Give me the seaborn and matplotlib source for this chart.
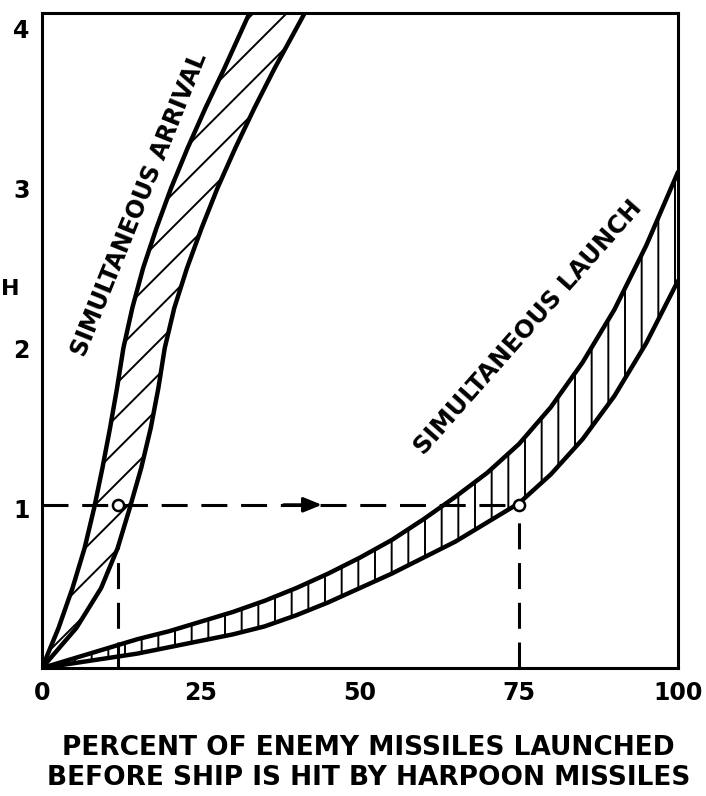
import numpy as np
import pandas as pd
import matplotlib
matplotlib.use("Agg")
import matplotlib.pyplot as plt
import seaborn as sns

# ---- data ----
# Simultaneous arrival band (x as function of y)
arrival_y = [0, 0.25, 0.5, 0.75, 1.0, 1.25, 1.5, 1.75, 2.0, 2.25, 2.5, 2.75, 3.0, 3.25, 3.5, 3.75, 4.1]
arrival_left_x = [0, 2.6, 4.8, 6.7, 8.2, 9.5, 10.7, 11.8, 12.8, 14.2, 15.9, 18.0, 20.3, 22.9, 25.7, 28.7, 32.7]
arrival_right_x = [0, 5.4, 9.3, 11.9, 13.8, 15.6, 17.1, 18.3, 19.3, 20.8, 22.8, 25.1, 27.6, 30.4, 33.4, 36.6, 41.4]

# Simultaneous launch band (y as function of x)
launch_x = [0, 5, 10, 15, 20, 25, 30, 35, 40, 45, 50, 55, 60, 65, 70, 75, 80, 85, 90, 95, 100]
launch_upper = [0, 0.06, 0.12, 0.18, 0.23, 0.29, 0.35, 0.42, 0.50, 0.59, 0.69, 0.80, 0.93, 1.07, 1.22, 1.40, 1.63, 1.91, 2.24, 2.64, 3.10]
launch_lower = [0, 0.03, 0.06, 0.09, 0.13, 0.17, 0.21, 0.26, 0.33, 0.41, 0.50, 0.59, 0.69, 0.79, 0.91, 1.03, 1.21, 1.43, 1.70, 2.03, 2.42]

# reading example (dashed guide lines)
guide_level = 1.02
guide_x_arrival = 12
guide_x_launch = 75
guide_arrival_visible_top = 0.78
arrow_tip_x = 44

x_ticks = [0, 25, 50, 75, 100]
y_ticks = [1, 2, 3, 4]
label_arrival = "SIMULTANEOUS ARRIVAL"
label_launch = "SIMULTANEOUS LAUNCH"
y_label = "H"
x_label = "PERCENT OF ENEMY MISSILES LAUNCHED\nBEFORE SHIP IS HIT BY HARPOON MISSILES"

# ---- style ----
sns.set_style("white")
plt.rcParams["font.family"] = ["DejaVu Sans"]
plt.rcParams["hatch.linewidth"] = 1.4
plt.rcParams["hatch.color"] = "black"

fig = plt.figure(figsize=(7.06, 7.96), dpi=100)
W, H = 706, 796
ax = fig.add_axes([42 / W, 1 - 668 / H, 636 / W, 655 / H])

ink = "black"
curve_lw = 3.2

arr = pd.DataFrame({"y": arrival_y, "left": arrival_left_x, "right": arrival_right_x})
lau = pd.DataFrame({"x": launch_x, "upper": launch_upper, "lower": launch_lower})

# hatched bands
ax.fill_betweenx(arr["y"], arr["left"], arr["right"], facecolor="none",
                 edgecolor=ink, hatch="/", linewidth=0)
ax.fill_between(lau["x"], lau["lower"], lau["upper"], facecolor="none",
                edgecolor=ink, hatch="|", linewidth=0)

# curves
line_kw = dict(color=ink, lw=curve_lw, solid_joinstyle="round", solid_capstyle="round")
sns.lineplot(data=arr, x="left", y="y", sort=False, estimator=None, ax=ax, **line_kw)
sns.lineplot(data=arr, x="right", y="y", sort=False, estimator=None, ax=ax, **line_kw)
sns.lineplot(data=lau, x="x", y="upper", ax=ax, **line_kw)
sns.lineplot(data=lau, x="x", y="lower", ax=ax, **line_kw)

# dashed guide lines
dash = (0, (8.5, 4.5))
ax.plot([0, guide_x_launch], [guide_level, guide_level], color=ink, lw=2.2, ls=dash)
ax.plot([guide_x_launch, guide_x_launch], [0, guide_level], color=ink, lw=2.2, ls=dash)
ax.plot([guide_x_arrival, guide_x_arrival], [0, guide_arrival_visible_top], color=ink, lw=2.2, ls=dash)
ax.annotate("", xy=(arrow_tip_x, guide_level), xytext=(arrow_tip_x - 6, guide_level),
            arrowprops=dict(arrowstyle="-|>,head_length=1.1,head_width=0.45",
                            color=ink, lw=2.2, shrinkA=0, shrinkB=0))
ax.plot([guide_x_arrival, guide_x_launch], [guide_level, guide_level], ls="none",
        marker="o", ms=8, mfc="white", mec=ink, mew=1.8)

# curve labels
ax.text(15.3, 2.90, label_arrival, rotation=68, rotation_mode="anchor",
        ha="center", va="center", fontsize=17, fontweight="bold", color=ink)
ax.text(76.4, 2.13, label_launch, rotation=48.5, rotation_mode="anchor",
        ha="center", va="center", fontsize=17.5, fontweight="bold", color=ink)

# axes
ax.set_xlim(0, 100)
ax.set_ylim(0, 655 / 160)
ax.set_xticks(x_ticks)
ax.set_xticklabels([str(t) for t in x_ticks])
ax.set_yticks(y_ticks)
ax.set_yticklabels([str(t) for t in y_ticks])
ax.tick_params(axis="both", direction="in", width=1.8, color=ink, labelcolor=ink,
               labelsize=17)
ax.tick_params(axis="y", length=11, pad=9)
ax.tick_params(axis="x", length=10, pad=9)
for lab in ax.get_xticklabels() + ax.get_yticklabels():
    lab.set_fontweight("bold")
for s in ax.spines.values():
    s.set_visible(True)
    s.set_color(ink)
    s.set_linewidth(2.2)

ax.set_ylabel(y_label, rotation=0, fontsize=16, fontweight="bold", ha="center", va="center",
              color=ink)
ax.yaxis.set_label_coords(-0.05, 2.37 / (655 / 160))
ax.set_xlabel(x_label, fontsize=19, fontweight="bold", linespacing=1.2, ha="center", va="top",
              color=ink)
ax.xaxis.set_label_coords(0.513, -0.103)

fig.savefig("out.png", dpi=100)
